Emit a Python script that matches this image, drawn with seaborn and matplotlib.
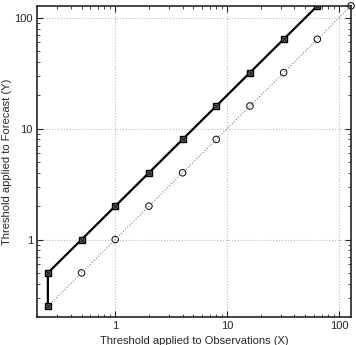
import numpy as np
import pandas as pd
import seaborn as sns
import matplotlib
matplotlib.use('Agg')
import matplotlib.pyplot as plt
from matplotlib.ticker import LogLocator, FuncFormatter, NullFormatter

# Thresholds (forecast vs observations)
obs_thresh = [0.25, 0.25, 0.5, 1, 2, 4, 8, 16, 32, 64]
fcst_thresh = [0.25, 0.5, 1, 2, 4, 8, 16, 32, 64, 128]
# reference (1:1) points
ref_x = [0.5, 1, 2, 4, 8, 16, 32, 64, 128]
ref_y = [0.5, 1, 2, 4, 8, 16, 32, 64, 128]
diag = [0.25, 128]

sns.set_style('ticks')
plt.rcParams['font.family'] = ['Liberation Sans', 'DejaVu Sans']

fig = plt.figure(figsize=(3.56, 3.45), dpi=100)
ax = fig.add_axes([0.104, 0.081, 0.882, 0.902])

df = pd.DataFrame({'x': obs_thresh, 'y': fcst_thresh})
ax.plot(diag, diag, color='gray', linestyle=':', linewidth=0.8)
sns.lineplot(data=df, x='x', y='y', sort=False, estimator=None, ax=ax,
             color='black', linewidth=1.6, marker='s', markersize=4.5,
             markerfacecolor='dimgray', markeredgecolor='black', markeredgewidth=1)
ax.plot(obs_thresh, fcst_thresh, linestyle='none', marker='x', markersize=3,
        color='black', markeredgewidth=0.5)
sns.scatterplot(x=ref_x, y=ref_y, ax=ax, marker='o', s=22, facecolor='none',
                edgecolor='black', linewidth=0.7, clip_on=False)

ax.set_xscale('log')
ax.set_yscale('log')
ax.set_xlim(0.2, 128)
ax.set_ylim(0.2, 128)

fmt = FuncFormatter(lambda v, p: f'{v:g}')
for axis in (ax.xaxis, ax.yaxis):
    axis.set_major_locator(LogLocator(base=10))
    axis.set_major_formatter(fmt)
    axis.set_minor_locator(LogLocator(base=10, subs=np.arange(2, 10)))
    axis.set_minor_formatter(NullFormatter())

ax.grid(True, which='major', color='#bbbbbb', linestyle=':', linewidth=0.8)
ax.tick_params(which='both', direction='in', top=True, right=True, labelsize=8, pad=3)
ax.tick_params(which='major', length=4)
ax.tick_params(which='minor', length=2)
for s in ax.spines.values():
    s.set_linewidth(1.2)

ax.set_xlabel('Threshold applied to Observations (X)', fontsize=8)
ax.xaxis.set_label_coords(0.5, -0.062)
ax.set_ylabel('Threshold applied to Forecast (Y)', fontsize=8)
ax.yaxis.set_label_coords(-0.08, 0.5)

fig.savefig('out.png', dpi=100)
